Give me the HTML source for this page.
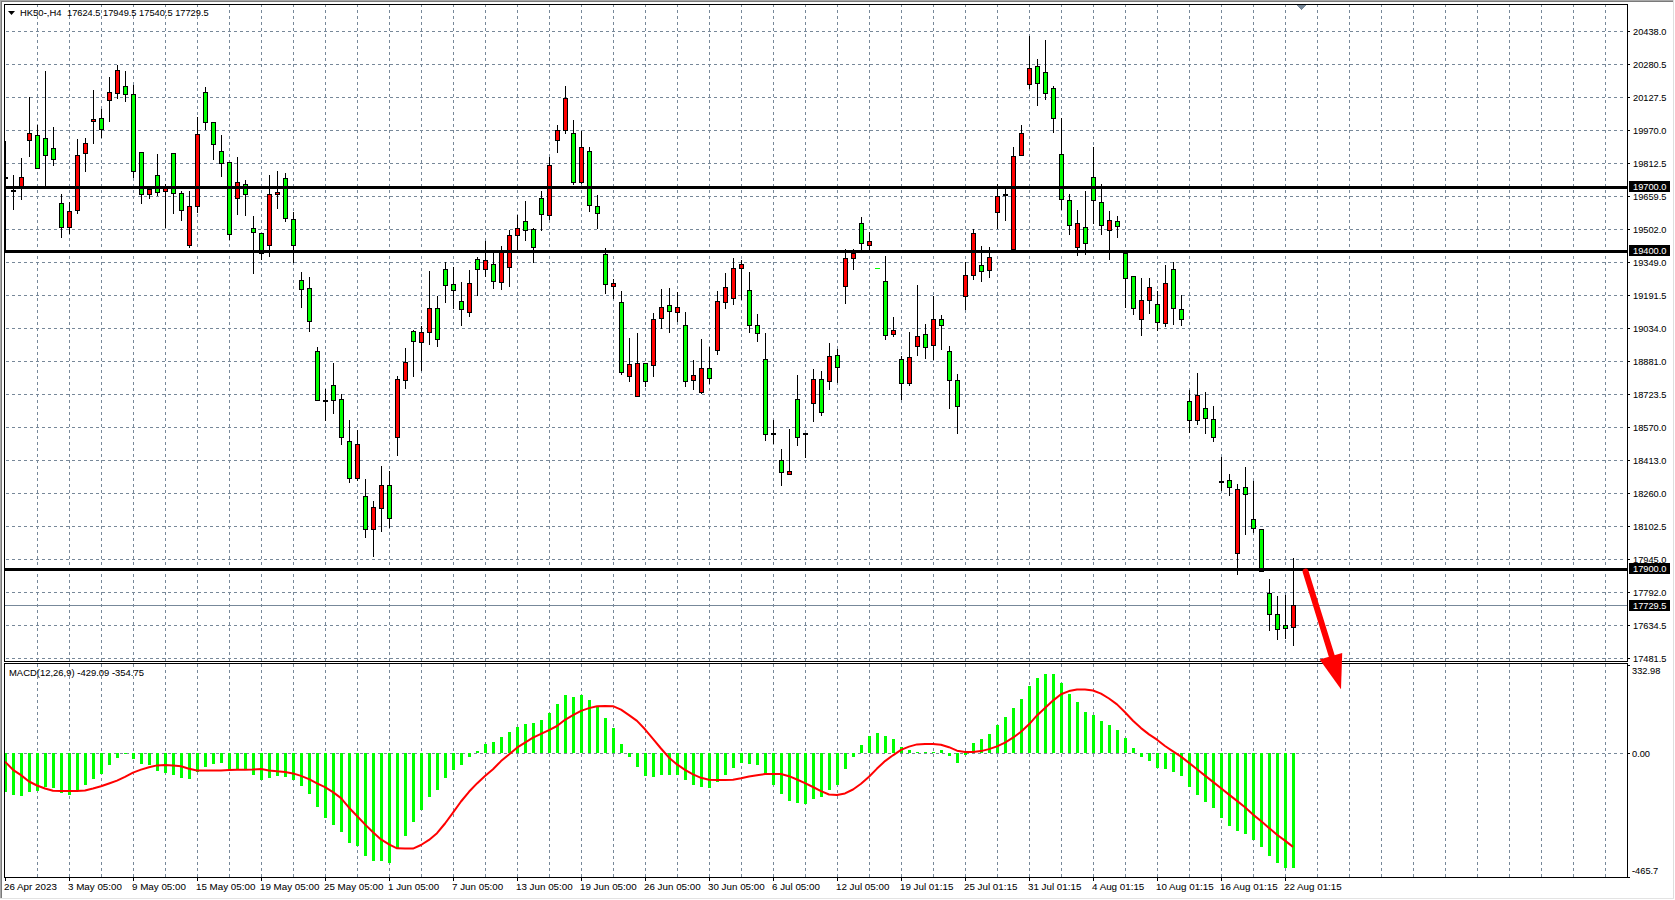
<!DOCTYPE html>
<html><head><meta charset="utf-8"><title>HK50 H4</title>
<style>html,body{margin:0;padding:0;background:#fff;overflow:hidden}body{width:1675px;height:900px;position:relative}</style>
</head><body>
<svg width="1675" height="900" viewBox="0 0 1675 900" style="position:absolute;left:0;top:0;display:block">
<rect x="0" y="0" width="1675" height="900" fill="#ffffff"/>
<g shape-rendering="crispEdges">
<rect x="0" y="0" width="1674" height="1" fill="#a9a9a9"/>
<rect x="1" y="1" width="1673" height="1" fill="#7a7a7a"/>
<rect x="0" y="0" width="1" height="899" fill="#a9a9a9"/>
<rect x="1" y="1" width="1" height="898" fill="#7a7a7a"/>
<rect x="1673" y="0" width="1" height="899" fill="#dedede"/>
<rect x="0" y="898" width="1674" height="1" fill="#e3e3e3"/>
<defs><clipPath id="cm"><rect x="5" y="5" width="1622" height="656"/></clipPath><clipPath id="cd"><rect x="5" y="664" width="1622" height="213"/></clipPath></defs>
<line x1="6" y1="31.5" x2="1625" y2="31.5" stroke="#778899" stroke-width="1" stroke-dasharray="3 3"/>
<line x1="6" y1="64.5" x2="1625" y2="64.5" stroke="#778899" stroke-width="1" stroke-dasharray="3 3"/>
<line x1="6" y1="97.5" x2="1625" y2="97.5" stroke="#778899" stroke-width="1" stroke-dasharray="3 3"/>
<line x1="6" y1="130.5" x2="1625" y2="130.5" stroke="#778899" stroke-width="1" stroke-dasharray="3 3"/>
<line x1="6" y1="163.5" x2="1625" y2="163.5" stroke="#778899" stroke-width="1" stroke-dasharray="3 3"/>
<line x1="6" y1="196.5" x2="1625" y2="196.5" stroke="#778899" stroke-width="1" stroke-dasharray="3 3"/>
<line x1="6" y1="229.5" x2="1625" y2="229.5" stroke="#778899" stroke-width="1" stroke-dasharray="3 3"/>
<line x1="6" y1="262.5" x2="1625" y2="262.5" stroke="#778899" stroke-width="1" stroke-dasharray="3 3"/>
<line x1="6" y1="295.5" x2="1625" y2="295.5" stroke="#778899" stroke-width="1" stroke-dasharray="3 3"/>
<line x1="6" y1="328.5" x2="1625" y2="328.5" stroke="#778899" stroke-width="1" stroke-dasharray="3 3"/>
<line x1="6" y1="361.5" x2="1625" y2="361.5" stroke="#778899" stroke-width="1" stroke-dasharray="3 3"/>
<line x1="6" y1="394.5" x2="1625" y2="394.5" stroke="#778899" stroke-width="1" stroke-dasharray="3 3"/>
<line x1="6" y1="427.5" x2="1625" y2="427.5" stroke="#778899" stroke-width="1" stroke-dasharray="3 3"/>
<line x1="6" y1="460.5" x2="1625" y2="460.5" stroke="#778899" stroke-width="1" stroke-dasharray="3 3"/>
<line x1="6" y1="493.5" x2="1625" y2="493.5" stroke="#778899" stroke-width="1" stroke-dasharray="3 3"/>
<line x1="6" y1="526.5" x2="1625" y2="526.5" stroke="#778899" stroke-width="1" stroke-dasharray="3 3"/>
<line x1="6" y1="559.5" x2="1625" y2="559.5" stroke="#778899" stroke-width="1" stroke-dasharray="3 3"/>
<line x1="6" y1="592.5" x2="1625" y2="592.5" stroke="#778899" stroke-width="1" stroke-dasharray="3 3"/>
<line x1="6" y1="625.5" x2="1625" y2="625.5" stroke="#778899" stroke-width="1" stroke-dasharray="3 3"/>
<line x1="6" y1="658.5" x2="1625" y2="658.5" stroke="#778899" stroke-width="1" stroke-dasharray="3 3"/>
<line x1="37.5" y1="4" x2="37.5" y2="661" stroke="#778899" stroke-width="1" stroke-dasharray="3 3"/>
<line x1="37.5" y1="664" x2="37.5" y2="877" stroke="#778899" stroke-width="1" stroke-dasharray="3 3"/>
<line x1="69.5" y1="4" x2="69.5" y2="661" stroke="#778899" stroke-width="1" stroke-dasharray="3 3"/>
<line x1="69.5" y1="664" x2="69.5" y2="877" stroke="#778899" stroke-width="1" stroke-dasharray="3 3"/>
<line x1="101.5" y1="4" x2="101.5" y2="661" stroke="#778899" stroke-width="1" stroke-dasharray="3 3"/>
<line x1="101.5" y1="664" x2="101.5" y2="877" stroke="#778899" stroke-width="1" stroke-dasharray="3 3"/>
<line x1="133.5" y1="4" x2="133.5" y2="661" stroke="#778899" stroke-width="1" stroke-dasharray="3 3"/>
<line x1="133.5" y1="664" x2="133.5" y2="877" stroke="#778899" stroke-width="1" stroke-dasharray="3 3"/>
<line x1="165.5" y1="4" x2="165.5" y2="661" stroke="#778899" stroke-width="1" stroke-dasharray="3 3"/>
<line x1="165.5" y1="664" x2="165.5" y2="877" stroke="#778899" stroke-width="1" stroke-dasharray="3 3"/>
<line x1="197.5" y1="4" x2="197.5" y2="661" stroke="#778899" stroke-width="1" stroke-dasharray="3 3"/>
<line x1="197.5" y1="664" x2="197.5" y2="877" stroke="#778899" stroke-width="1" stroke-dasharray="3 3"/>
<line x1="229.5" y1="4" x2="229.5" y2="661" stroke="#778899" stroke-width="1" stroke-dasharray="3 3"/>
<line x1="229.5" y1="664" x2="229.5" y2="877" stroke="#778899" stroke-width="1" stroke-dasharray="3 3"/>
<line x1="261.5" y1="4" x2="261.5" y2="661" stroke="#778899" stroke-width="1" stroke-dasharray="3 3"/>
<line x1="261.5" y1="664" x2="261.5" y2="877" stroke="#778899" stroke-width="1" stroke-dasharray="3 3"/>
<line x1="293.5" y1="4" x2="293.5" y2="661" stroke="#778899" stroke-width="1" stroke-dasharray="3 3"/>
<line x1="293.5" y1="664" x2="293.5" y2="877" stroke="#778899" stroke-width="1" stroke-dasharray="3 3"/>
<line x1="325.5" y1="4" x2="325.5" y2="661" stroke="#778899" stroke-width="1" stroke-dasharray="3 3"/>
<line x1="325.5" y1="664" x2="325.5" y2="877" stroke="#778899" stroke-width="1" stroke-dasharray="3 3"/>
<line x1="357.5" y1="4" x2="357.5" y2="661" stroke="#778899" stroke-width="1" stroke-dasharray="3 3"/>
<line x1="357.5" y1="664" x2="357.5" y2="877" stroke="#778899" stroke-width="1" stroke-dasharray="3 3"/>
<line x1="389.5" y1="4" x2="389.5" y2="661" stroke="#778899" stroke-width="1" stroke-dasharray="3 3"/>
<line x1="389.5" y1="664" x2="389.5" y2="877" stroke="#778899" stroke-width="1" stroke-dasharray="3 3"/>
<line x1="421.5" y1="4" x2="421.5" y2="661" stroke="#778899" stroke-width="1" stroke-dasharray="3 3"/>
<line x1="421.5" y1="664" x2="421.5" y2="877" stroke="#778899" stroke-width="1" stroke-dasharray="3 3"/>
<line x1="453.5" y1="4" x2="453.5" y2="661" stroke="#778899" stroke-width="1" stroke-dasharray="3 3"/>
<line x1="453.5" y1="664" x2="453.5" y2="877" stroke="#778899" stroke-width="1" stroke-dasharray="3 3"/>
<line x1="485.5" y1="4" x2="485.5" y2="661" stroke="#778899" stroke-width="1" stroke-dasharray="3 3"/>
<line x1="485.5" y1="664" x2="485.5" y2="877" stroke="#778899" stroke-width="1" stroke-dasharray="3 3"/>
<line x1="517.5" y1="4" x2="517.5" y2="661" stroke="#778899" stroke-width="1" stroke-dasharray="3 3"/>
<line x1="517.5" y1="664" x2="517.5" y2="877" stroke="#778899" stroke-width="1" stroke-dasharray="3 3"/>
<line x1="549.5" y1="4" x2="549.5" y2="661" stroke="#778899" stroke-width="1" stroke-dasharray="3 3"/>
<line x1="549.5" y1="664" x2="549.5" y2="877" stroke="#778899" stroke-width="1" stroke-dasharray="3 3"/>
<line x1="581.5" y1="4" x2="581.5" y2="661" stroke="#778899" stroke-width="1" stroke-dasharray="3 3"/>
<line x1="581.5" y1="664" x2="581.5" y2="877" stroke="#778899" stroke-width="1" stroke-dasharray="3 3"/>
<line x1="613.5" y1="4" x2="613.5" y2="661" stroke="#778899" stroke-width="1" stroke-dasharray="3 3"/>
<line x1="613.5" y1="664" x2="613.5" y2="877" stroke="#778899" stroke-width="1" stroke-dasharray="3 3"/>
<line x1="645.5" y1="4" x2="645.5" y2="661" stroke="#778899" stroke-width="1" stroke-dasharray="3 3"/>
<line x1="645.5" y1="664" x2="645.5" y2="877" stroke="#778899" stroke-width="1" stroke-dasharray="3 3"/>
<line x1="677.5" y1="4" x2="677.5" y2="661" stroke="#778899" stroke-width="1" stroke-dasharray="3 3"/>
<line x1="677.5" y1="664" x2="677.5" y2="877" stroke="#778899" stroke-width="1" stroke-dasharray="3 3"/>
<line x1="709.5" y1="4" x2="709.5" y2="661" stroke="#778899" stroke-width="1" stroke-dasharray="3 3"/>
<line x1="709.5" y1="664" x2="709.5" y2="877" stroke="#778899" stroke-width="1" stroke-dasharray="3 3"/>
<line x1="741.5" y1="4" x2="741.5" y2="661" stroke="#778899" stroke-width="1" stroke-dasharray="3 3"/>
<line x1="741.5" y1="664" x2="741.5" y2="877" stroke="#778899" stroke-width="1" stroke-dasharray="3 3"/>
<line x1="773.5" y1="4" x2="773.5" y2="661" stroke="#778899" stroke-width="1" stroke-dasharray="3 3"/>
<line x1="773.5" y1="664" x2="773.5" y2="877" stroke="#778899" stroke-width="1" stroke-dasharray="3 3"/>
<line x1="805.5" y1="4" x2="805.5" y2="661" stroke="#778899" stroke-width="1" stroke-dasharray="3 3"/>
<line x1="805.5" y1="664" x2="805.5" y2="877" stroke="#778899" stroke-width="1" stroke-dasharray="3 3"/>
<line x1="837.5" y1="4" x2="837.5" y2="661" stroke="#778899" stroke-width="1" stroke-dasharray="3 3"/>
<line x1="837.5" y1="664" x2="837.5" y2="877" stroke="#778899" stroke-width="1" stroke-dasharray="3 3"/>
<line x1="869.5" y1="4" x2="869.5" y2="661" stroke="#778899" stroke-width="1" stroke-dasharray="3 3"/>
<line x1="869.5" y1="664" x2="869.5" y2="877" stroke="#778899" stroke-width="1" stroke-dasharray="3 3"/>
<line x1="901.5" y1="4" x2="901.5" y2="661" stroke="#778899" stroke-width="1" stroke-dasharray="3 3"/>
<line x1="901.5" y1="664" x2="901.5" y2="877" stroke="#778899" stroke-width="1" stroke-dasharray="3 3"/>
<line x1="933.5" y1="4" x2="933.5" y2="661" stroke="#778899" stroke-width="1" stroke-dasharray="3 3"/>
<line x1="933.5" y1="664" x2="933.5" y2="877" stroke="#778899" stroke-width="1" stroke-dasharray="3 3"/>
<line x1="965.5" y1="4" x2="965.5" y2="661" stroke="#778899" stroke-width="1" stroke-dasharray="3 3"/>
<line x1="965.5" y1="664" x2="965.5" y2="877" stroke="#778899" stroke-width="1" stroke-dasharray="3 3"/>
<line x1="997.5" y1="4" x2="997.5" y2="661" stroke="#778899" stroke-width="1" stroke-dasharray="3 3"/>
<line x1="997.5" y1="664" x2="997.5" y2="877" stroke="#778899" stroke-width="1" stroke-dasharray="3 3"/>
<line x1="1029.5" y1="4" x2="1029.5" y2="661" stroke="#778899" stroke-width="1" stroke-dasharray="3 3"/>
<line x1="1029.5" y1="664" x2="1029.5" y2="877" stroke="#778899" stroke-width="1" stroke-dasharray="3 3"/>
<line x1="1061.5" y1="4" x2="1061.5" y2="661" stroke="#778899" stroke-width="1" stroke-dasharray="3 3"/>
<line x1="1061.5" y1="664" x2="1061.5" y2="877" stroke="#778899" stroke-width="1" stroke-dasharray="3 3"/>
<line x1="1093.5" y1="4" x2="1093.5" y2="661" stroke="#778899" stroke-width="1" stroke-dasharray="3 3"/>
<line x1="1093.5" y1="664" x2="1093.5" y2="877" stroke="#778899" stroke-width="1" stroke-dasharray="3 3"/>
<line x1="1125.5" y1="4" x2="1125.5" y2="661" stroke="#778899" stroke-width="1" stroke-dasharray="3 3"/>
<line x1="1125.5" y1="664" x2="1125.5" y2="877" stroke="#778899" stroke-width="1" stroke-dasharray="3 3"/>
<line x1="1157.5" y1="4" x2="1157.5" y2="661" stroke="#778899" stroke-width="1" stroke-dasharray="3 3"/>
<line x1="1157.5" y1="664" x2="1157.5" y2="877" stroke="#778899" stroke-width="1" stroke-dasharray="3 3"/>
<line x1="1189.5" y1="4" x2="1189.5" y2="661" stroke="#778899" stroke-width="1" stroke-dasharray="3 3"/>
<line x1="1189.5" y1="664" x2="1189.5" y2="877" stroke="#778899" stroke-width="1" stroke-dasharray="3 3"/>
<line x1="1221.5" y1="4" x2="1221.5" y2="661" stroke="#778899" stroke-width="1" stroke-dasharray="3 3"/>
<line x1="1221.5" y1="664" x2="1221.5" y2="877" stroke="#778899" stroke-width="1" stroke-dasharray="3 3"/>
<line x1="1253.5" y1="4" x2="1253.5" y2="661" stroke="#778899" stroke-width="1" stroke-dasharray="3 3"/>
<line x1="1253.5" y1="664" x2="1253.5" y2="877" stroke="#778899" stroke-width="1" stroke-dasharray="3 3"/>
<line x1="1285.5" y1="4" x2="1285.5" y2="661" stroke="#778899" stroke-width="1" stroke-dasharray="3 3"/>
<line x1="1285.5" y1="664" x2="1285.5" y2="877" stroke="#778899" stroke-width="1" stroke-dasharray="3 3"/>
<line x1="1317.5" y1="4" x2="1317.5" y2="661" stroke="#778899" stroke-width="1" stroke-dasharray="3 3"/>
<line x1="1317.5" y1="664" x2="1317.5" y2="877" stroke="#778899" stroke-width="1" stroke-dasharray="3 3"/>
<line x1="1349.5" y1="4" x2="1349.5" y2="661" stroke="#778899" stroke-width="1" stroke-dasharray="3 3"/>
<line x1="1349.5" y1="664" x2="1349.5" y2="877" stroke="#778899" stroke-width="1" stroke-dasharray="3 3"/>
<line x1="1381.5" y1="4" x2="1381.5" y2="661" stroke="#778899" stroke-width="1" stroke-dasharray="3 3"/>
<line x1="1381.5" y1="664" x2="1381.5" y2="877" stroke="#778899" stroke-width="1" stroke-dasharray="3 3"/>
<line x1="1413.5" y1="4" x2="1413.5" y2="661" stroke="#778899" stroke-width="1" stroke-dasharray="3 3"/>
<line x1="1413.5" y1="664" x2="1413.5" y2="877" stroke="#778899" stroke-width="1" stroke-dasharray="3 3"/>
<line x1="1445.5" y1="4" x2="1445.5" y2="661" stroke="#778899" stroke-width="1" stroke-dasharray="3 3"/>
<line x1="1445.5" y1="664" x2="1445.5" y2="877" stroke="#778899" stroke-width="1" stroke-dasharray="3 3"/>
<line x1="1477.5" y1="4" x2="1477.5" y2="661" stroke="#778899" stroke-width="1" stroke-dasharray="3 3"/>
<line x1="1477.5" y1="664" x2="1477.5" y2="877" stroke="#778899" stroke-width="1" stroke-dasharray="3 3"/>
<line x1="1509.5" y1="4" x2="1509.5" y2="661" stroke="#778899" stroke-width="1" stroke-dasharray="3 3"/>
<line x1="1509.5" y1="664" x2="1509.5" y2="877" stroke="#778899" stroke-width="1" stroke-dasharray="3 3"/>
<line x1="1541.5" y1="4" x2="1541.5" y2="661" stroke="#778899" stroke-width="1" stroke-dasharray="3 3"/>
<line x1="1541.5" y1="664" x2="1541.5" y2="877" stroke="#778899" stroke-width="1" stroke-dasharray="3 3"/>
<line x1="1573.5" y1="4" x2="1573.5" y2="661" stroke="#778899" stroke-width="1" stroke-dasharray="3 3"/>
<line x1="1573.5" y1="664" x2="1573.5" y2="877" stroke="#778899" stroke-width="1" stroke-dasharray="3 3"/>
<line x1="1605.5" y1="4" x2="1605.5" y2="661" stroke="#778899" stroke-width="1" stroke-dasharray="3 3"/>
<line x1="1605.5" y1="664" x2="1605.5" y2="877" stroke="#778899" stroke-width="1" stroke-dasharray="3 3"/>
<line x1="6" y1="753.5" x2="1625" y2="753.5" stroke="#778899" stroke-width="1" stroke-dasharray="3 3"/>
<g clip-path="url(#cm)">
<rect x="5" y="605" width="1622" height="1" fill="#778899"/>
<rect x="5" y="141" width="1" height="111" fill="#000"/>
<rect x="3" y="177" width="5" height="2" fill="#000"/>
<rect x="13" y="175" width="1" height="35" fill="#000"/>
<rect x="11" y="190" width="5" height="2" fill="#000"/>
<rect x="21" y="158" width="1" height="42" fill="#000"/>
<rect x="19" y="177" width="5" height="10" fill="#000"/>
<rect x="20" y="178" width="3" height="8" fill="#ff0000"/>
<rect x="29" y="97" width="1" height="60" fill="#000"/>
<rect x="27" y="133" width="5" height="8" fill="#000"/>
<rect x="28" y="134" width="3" height="6" fill="#ff0000"/>
<rect x="37" y="125" width="1" height="44" fill="#000"/>
<rect x="35" y="135" width="5" height="34" fill="#000"/>
<rect x="36" y="136" width="3" height="32" fill="#00ff00"/>
<rect x="45" y="71" width="1" height="116" fill="#000"/>
<rect x="43" y="138" width="5" height="18" fill="#000"/>
<rect x="44" y="139" width="3" height="16" fill="#00ff00"/>
<rect x="53" y="127" width="1" height="39" fill="#000"/>
<rect x="51" y="148" width="5" height="12" fill="#000"/>
<rect x="52" y="149" width="3" height="10" fill="#00ff00"/>
<rect x="61" y="194" width="1" height="44" fill="#000"/>
<rect x="59" y="203" width="5" height="25" fill="#000"/>
<rect x="60" y="204" width="3" height="23" fill="#00ff00"/>
<rect x="69" y="202" width="1" height="32" fill="#000"/>
<rect x="67" y="211" width="5" height="17" fill="#000"/>
<rect x="68" y="212" width="3" height="15" fill="#ff0000"/>
<rect x="77" y="139" width="1" height="75" fill="#000"/>
<rect x="75" y="155" width="5" height="56" fill="#000"/>
<rect x="76" y="156" width="3" height="54" fill="#ff0000"/>
<rect x="85" y="138" width="1" height="34" fill="#000"/>
<rect x="83" y="143" width="5" height="11" fill="#000"/>
<rect x="84" y="144" width="3" height="9" fill="#ff0000"/>
<rect x="93" y="90" width="1" height="54" fill="#000"/>
<rect x="91" y="119" width="5" height="3" fill="#000"/>
<rect x="92" y="120" width="3" height="1" fill="#ff0000"/>
<rect x="101" y="109" width="1" height="29" fill="#000"/>
<rect x="99" y="118" width="5" height="12" fill="#000"/>
<rect x="100" y="119" width="3" height="10" fill="#00ff00"/>
<rect x="109" y="77" width="1" height="45" fill="#000"/>
<rect x="107" y="92" width="5" height="9" fill="#000"/>
<rect x="108" y="93" width="3" height="7" fill="#ff0000"/>
<rect x="117" y="65" width="1" height="34" fill="#000"/>
<rect x="115" y="70" width="5" height="24" fill="#000"/>
<rect x="116" y="71" width="3" height="22" fill="#ff0000"/>
<rect x="125" y="71" width="1" height="31" fill="#000"/>
<rect x="123" y="86" width="5" height="9" fill="#000"/>
<rect x="124" y="87" width="3" height="7" fill="#00ff00"/>
<rect x="133" y="85" width="1" height="93" fill="#000"/>
<rect x="131" y="94" width="5" height="78" fill="#000"/>
<rect x="132" y="95" width="3" height="76" fill="#00ff00"/>
<rect x="141" y="152" width="1" height="52" fill="#000"/>
<rect x="139" y="152" width="5" height="43" fill="#000"/>
<rect x="140" y="153" width="3" height="41" fill="#00ff00"/>
<rect x="149" y="189" width="1" height="10" fill="#000"/>
<rect x="147" y="189" width="5" height="6" fill="#000"/>
<rect x="148" y="190" width="3" height="4" fill="#ff0000"/>
<rect x="157" y="154" width="1" height="42" fill="#000"/>
<rect x="155" y="175" width="5" height="18" fill="#000"/>
<rect x="156" y="176" width="3" height="16" fill="#00ff00"/>
<rect x="165" y="184" width="1" height="44" fill="#000"/>
<rect x="163" y="188" width="5" height="4" fill="#000"/>
<rect x="164" y="189" width="3" height="2" fill="#ff0000"/>
<rect x="173" y="153" width="1" height="61" fill="#000"/>
<rect x="171" y="153" width="5" height="41" fill="#000"/>
<rect x="172" y="154" width="3" height="39" fill="#00ff00"/>
<rect x="181" y="191" width="1" height="30" fill="#000"/>
<rect x="179" y="193" width="5" height="18" fill="#000"/>
<rect x="180" y="194" width="3" height="16" fill="#00ff00"/>
<rect x="189" y="191" width="1" height="57" fill="#000"/>
<rect x="187" y="206" width="5" height="40" fill="#000"/>
<rect x="188" y="207" width="3" height="38" fill="#ff0000"/>
<rect x="197" y="117" width="1" height="96" fill="#000"/>
<rect x="195" y="134" width="5" height="73" fill="#000"/>
<rect x="196" y="135" width="3" height="71" fill="#ff0000"/>
<rect x="205" y="87" width="1" height="43" fill="#000"/>
<rect x="203" y="92" width="5" height="31" fill="#000"/>
<rect x="204" y="93" width="3" height="29" fill="#00ff00"/>
<rect x="213" y="122" width="1" height="38" fill="#000"/>
<rect x="211" y="122" width="5" height="23" fill="#000"/>
<rect x="212" y="123" width="3" height="21" fill="#00ff00"/>
<rect x="221" y="135" width="1" height="42" fill="#000"/>
<rect x="219" y="151" width="5" height="13" fill="#000"/>
<rect x="220" y="152" width="3" height="11" fill="#00ff00"/>
<rect x="229" y="162" width="1" height="78" fill="#000"/>
<rect x="227" y="162" width="5" height="73" fill="#000"/>
<rect x="228" y="163" width="3" height="71" fill="#00ff00"/>
<rect x="237" y="157" width="1" height="58" fill="#000"/>
<rect x="235" y="182" width="5" height="17" fill="#000"/>
<rect x="236" y="183" width="3" height="15" fill="#ff0000"/>
<rect x="245" y="180" width="1" height="36" fill="#000"/>
<rect x="243" y="184" width="5" height="11" fill="#000"/>
<rect x="244" y="185" width="3" height="9" fill="#00ff00"/>
<rect x="253" y="216" width="1" height="58" fill="#000"/>
<rect x="251" y="228" width="5" height="5" fill="#000"/>
<rect x="252" y="229" width="3" height="3" fill="#00ff00"/>
<rect x="261" y="233" width="1" height="27" fill="#000"/>
<rect x="259" y="233" width="5" height="21" fill="#000"/>
<rect x="260" y="234" width="3" height="19" fill="#00ff00"/>
<rect x="269" y="175" width="1" height="82" fill="#000"/>
<rect x="267" y="194" width="5" height="52" fill="#000"/>
<rect x="268" y="195" width="3" height="50" fill="#ff0000"/>
<rect x="277" y="171" width="1" height="38" fill="#000"/>
<rect x="275" y="192" width="5" height="3" fill="#000"/>
<rect x="276" y="193" width="3" height="1" fill="#ff0000"/>
<rect x="285" y="173" width="1" height="49" fill="#000"/>
<rect x="283" y="178" width="5" height="41" fill="#000"/>
<rect x="284" y="179" width="3" height="39" fill="#00ff00"/>
<rect x="293" y="212" width="1" height="51" fill="#000"/>
<rect x="291" y="219" width="5" height="27" fill="#000"/>
<rect x="292" y="220" width="3" height="25" fill="#00ff00"/>
<rect x="301" y="272" width="1" height="36" fill="#000"/>
<rect x="299" y="280" width="5" height="10" fill="#000"/>
<rect x="300" y="281" width="3" height="8" fill="#00ff00"/>
<rect x="309" y="277" width="1" height="55" fill="#000"/>
<rect x="307" y="288" width="5" height="34" fill="#000"/>
<rect x="308" y="289" width="3" height="32" fill="#00ff00"/>
<rect x="317" y="347" width="1" height="54" fill="#000"/>
<rect x="315" y="351" width="5" height="50" fill="#000"/>
<rect x="316" y="352" width="3" height="48" fill="#00ff00"/>
<rect x="325" y="389" width="1" height="32" fill="#000"/>
<rect x="323" y="400" width="5" height="2" fill="#000"/>
<rect x="333" y="363" width="1" height="51" fill="#000"/>
<rect x="331" y="385" width="5" height="16" fill="#000"/>
<rect x="332" y="386" width="3" height="14" fill="#00ff00"/>
<rect x="341" y="394" width="1" height="51" fill="#000"/>
<rect x="339" y="399" width="5" height="39" fill="#000"/>
<rect x="340" y="400" width="3" height="37" fill="#00ff00"/>
<rect x="349" y="420" width="1" height="63" fill="#000"/>
<rect x="347" y="441" width="5" height="38" fill="#000"/>
<rect x="348" y="442" width="3" height="36" fill="#00ff00"/>
<rect x="357" y="430" width="1" height="51" fill="#000"/>
<rect x="355" y="444" width="5" height="35" fill="#000"/>
<rect x="356" y="445" width="3" height="33" fill="#ff0000"/>
<rect x="365" y="479" width="1" height="59" fill="#000"/>
<rect x="363" y="496" width="5" height="34" fill="#000"/>
<rect x="364" y="497" width="3" height="32" fill="#00ff00"/>
<rect x="373" y="501" width="1" height="56" fill="#000"/>
<rect x="371" y="507" width="5" height="23" fill="#000"/>
<rect x="372" y="508" width="3" height="21" fill="#ff0000"/>
<rect x="381" y="466" width="1" height="66" fill="#000"/>
<rect x="379" y="485" width="5" height="24" fill="#000"/>
<rect x="380" y="486" width="3" height="22" fill="#ff0000"/>
<rect x="389" y="471" width="1" height="57" fill="#000"/>
<rect x="387" y="485" width="5" height="34" fill="#000"/>
<rect x="388" y="486" width="3" height="32" fill="#00ff00"/>
<rect x="397" y="376" width="1" height="80" fill="#000"/>
<rect x="395" y="379" width="5" height="59" fill="#000"/>
<rect x="396" y="380" width="3" height="57" fill="#ff0000"/>
<rect x="405" y="348" width="1" height="41" fill="#000"/>
<rect x="403" y="362" width="5" height="19" fill="#000"/>
<rect x="404" y="363" width="3" height="17" fill="#ff0000"/>
<rect x="413" y="330" width="1" height="47" fill="#000"/>
<rect x="411" y="331" width="5" height="11" fill="#000"/>
<rect x="412" y="332" width="3" height="9" fill="#00ff00"/>
<rect x="421" y="326" width="1" height="45" fill="#000"/>
<rect x="419" y="332" width="5" height="11" fill="#000"/>
<rect x="420" y="333" width="3" height="9" fill="#ff0000"/>
<rect x="429" y="271" width="1" height="74" fill="#000"/>
<rect x="427" y="308" width="5" height="25" fill="#000"/>
<rect x="428" y="309" width="3" height="23" fill="#ff0000"/>
<rect x="437" y="296" width="1" height="51" fill="#000"/>
<rect x="435" y="308" width="5" height="32" fill="#000"/>
<rect x="436" y="309" width="3" height="30" fill="#00ff00"/>
<rect x="445" y="262" width="1" height="41" fill="#000"/>
<rect x="443" y="269" width="5" height="17" fill="#000"/>
<rect x="444" y="270" width="3" height="15" fill="#00ff00"/>
<rect x="453" y="267" width="1" height="42" fill="#000"/>
<rect x="451" y="284" width="5" height="7" fill="#000"/>
<rect x="452" y="285" width="3" height="5" fill="#00ff00"/>
<rect x="461" y="282" width="1" height="44" fill="#000"/>
<rect x="459" y="301" width="5" height="9" fill="#000"/>
<rect x="460" y="302" width="3" height="7" fill="#00ff00"/>
<rect x="469" y="270" width="1" height="47" fill="#000"/>
<rect x="467" y="283" width="5" height="30" fill="#000"/>
<rect x="468" y="284" width="3" height="28" fill="#ff0000"/>
<rect x="477" y="257" width="1" height="39" fill="#000"/>
<rect x="475" y="259" width="5" height="11" fill="#000"/>
<rect x="476" y="260" width="3" height="9" fill="#00ff00"/>
<rect x="485" y="241" width="1" height="36" fill="#000"/>
<rect x="483" y="260" width="5" height="10" fill="#000"/>
<rect x="484" y="261" width="3" height="8" fill="#ff0000"/>
<rect x="493" y="252" width="1" height="37" fill="#000"/>
<rect x="491" y="264" width="5" height="18" fill="#000"/>
<rect x="492" y="265" width="3" height="16" fill="#00ff00"/>
<rect x="501" y="246" width="1" height="44" fill="#000"/>
<rect x="499" y="252" width="5" height="31" fill="#000"/>
<rect x="500" y="253" width="3" height="29" fill="#ff0000"/>
<rect x="509" y="230" width="1" height="57" fill="#000"/>
<rect x="507" y="235" width="5" height="33" fill="#000"/>
<rect x="508" y="236" width="3" height="31" fill="#ff0000"/>
<rect x="517" y="215" width="1" height="36" fill="#000"/>
<rect x="515" y="228" width="5" height="8" fill="#000"/>
<rect x="516" y="229" width="3" height="6" fill="#ff0000"/>
<rect x="525" y="201" width="1" height="40" fill="#000"/>
<rect x="523" y="221" width="5" height="10" fill="#000"/>
<rect x="524" y="222" width="3" height="8" fill="#00ff00"/>
<rect x="533" y="228" width="1" height="35" fill="#000"/>
<rect x="531" y="229" width="5" height="19" fill="#000"/>
<rect x="532" y="230" width="3" height="17" fill="#00ff00"/>
<rect x="541" y="191" width="1" height="40" fill="#000"/>
<rect x="539" y="198" width="5" height="17" fill="#000"/>
<rect x="540" y="199" width="3" height="15" fill="#00ff00"/>
<rect x="549" y="157" width="1" height="63" fill="#000"/>
<rect x="547" y="165" width="5" height="51" fill="#000"/>
<rect x="548" y="166" width="3" height="49" fill="#ff0000"/>
<rect x="557" y="125" width="1" height="28" fill="#000"/>
<rect x="555" y="130" width="5" height="11" fill="#000"/>
<rect x="556" y="131" width="3" height="9" fill="#ff0000"/>
<rect x="565" y="86" width="1" height="48" fill="#000"/>
<rect x="563" y="98" width="5" height="33" fill="#000"/>
<rect x="564" y="99" width="3" height="31" fill="#ff0000"/>
<rect x="573" y="120" width="1" height="65" fill="#000"/>
<rect x="571" y="133" width="5" height="50" fill="#000"/>
<rect x="572" y="134" width="3" height="48" fill="#00ff00"/>
<rect x="581" y="131" width="1" height="53" fill="#000"/>
<rect x="579" y="147" width="5" height="36" fill="#000"/>
<rect x="580" y="148" width="3" height="34" fill="#ff0000"/>
<rect x="589" y="147" width="1" height="65" fill="#000"/>
<rect x="587" y="151" width="5" height="55" fill="#000"/>
<rect x="588" y="152" width="3" height="53" fill="#00ff00"/>
<rect x="597" y="195" width="1" height="34" fill="#000"/>
<rect x="595" y="206" width="5" height="8" fill="#000"/>
<rect x="596" y="207" width="3" height="6" fill="#00ff00"/>
<rect x="605" y="248" width="1" height="46" fill="#000"/>
<rect x="603" y="254" width="5" height="31" fill="#000"/>
<rect x="604" y="255" width="3" height="29" fill="#00ff00"/>
<rect x="613" y="279" width="1" height="20" fill="#000"/>
<rect x="611" y="283" width="5" height="4" fill="#000"/>
<rect x="612" y="284" width="3" height="2" fill="#ff0000"/>
<rect x="621" y="291" width="1" height="84" fill="#000"/>
<rect x="619" y="302" width="5" height="71" fill="#000"/>
<rect x="620" y="303" width="3" height="69" fill="#00ff00"/>
<rect x="629" y="338" width="1" height="44" fill="#000"/>
<rect x="627" y="364" width="5" height="13" fill="#000"/>
<rect x="628" y="365" width="3" height="11" fill="#ff0000"/>
<rect x="637" y="333" width="1" height="64" fill="#000"/>
<rect x="635" y="363" width="5" height="34" fill="#000"/>
<rect x="636" y="364" width="3" height="32" fill="#ff0000"/>
<rect x="645" y="363" width="1" height="24" fill="#000"/>
<rect x="643" y="363" width="5" height="19" fill="#000"/>
<rect x="644" y="364" width="3" height="17" fill="#00ff00"/>
<rect x="653" y="313" width="1" height="64" fill="#000"/>
<rect x="651" y="319" width="5" height="47" fill="#000"/>
<rect x="652" y="320" width="3" height="45" fill="#ff0000"/>
<rect x="661" y="289" width="1" height="40" fill="#000"/>
<rect x="659" y="307" width="5" height="12" fill="#000"/>
<rect x="660" y="308" width="3" height="10" fill="#ff0000"/>
<rect x="669" y="288" width="1" height="45" fill="#000"/>
<rect x="667" y="305" width="5" height="7" fill="#000"/>
<rect x="668" y="306" width="3" height="5" fill="#00ff00"/>
<rect x="677" y="292" width="1" height="30" fill="#000"/>
<rect x="675" y="307" width="5" height="6" fill="#000"/>
<rect x="676" y="308" width="3" height="4" fill="#ff0000"/>
<rect x="685" y="312" width="1" height="75" fill="#000"/>
<rect x="683" y="325" width="5" height="57" fill="#000"/>
<rect x="684" y="326" width="3" height="55" fill="#00ff00"/>
<rect x="693" y="360" width="1" height="30" fill="#000"/>
<rect x="691" y="375" width="5" height="6" fill="#000"/>
<rect x="692" y="376" width="3" height="4" fill="#ff0000"/>
<rect x="701" y="339" width="1" height="55" fill="#000"/>
<rect x="699" y="368" width="5" height="25" fill="#000"/>
<rect x="700" y="369" width="3" height="23" fill="#ff0000"/>
<rect x="709" y="347" width="1" height="37" fill="#000"/>
<rect x="707" y="368" width="5" height="11" fill="#000"/>
<rect x="708" y="369" width="3" height="9" fill="#00ff00"/>
<rect x="717" y="291" width="1" height="64" fill="#000"/>
<rect x="715" y="301" width="5" height="50" fill="#000"/>
<rect x="716" y="302" width="3" height="48" fill="#ff0000"/>
<rect x="725" y="273" width="1" height="36" fill="#000"/>
<rect x="723" y="287" width="5" height="16" fill="#000"/>
<rect x="724" y="288" width="3" height="14" fill="#ff0000"/>
<rect x="733" y="258" width="1" height="47" fill="#000"/>
<rect x="731" y="268" width="5" height="31" fill="#000"/>
<rect x="732" y="269" width="3" height="29" fill="#ff0000"/>
<rect x="741" y="260" width="1" height="40" fill="#000"/>
<rect x="739" y="264" width="5" height="5" fill="#000"/>
<rect x="740" y="265" width="3" height="3" fill="#ff0000"/>
<rect x="749" y="272" width="1" height="61" fill="#000"/>
<rect x="747" y="290" width="5" height="36" fill="#000"/>
<rect x="748" y="291" width="3" height="34" fill="#00ff00"/>
<rect x="757" y="314" width="1" height="28" fill="#000"/>
<rect x="755" y="325" width="5" height="9" fill="#000"/>
<rect x="756" y="326" width="3" height="7" fill="#00ff00"/>
<rect x="765" y="333" width="1" height="108" fill="#000"/>
<rect x="763" y="359" width="5" height="76" fill="#000"/>
<rect x="764" y="360" width="3" height="74" fill="#00ff00"/>
<rect x="773" y="420" width="1" height="24" fill="#000"/>
<rect x="771" y="433" width="5" height="2" fill="#000"/>
<rect x="781" y="449" width="1" height="37" fill="#000"/>
<rect x="779" y="460" width="5" height="13" fill="#000"/>
<rect x="780" y="461" width="3" height="11" fill="#00ff00"/>
<rect x="789" y="429" width="1" height="46" fill="#000"/>
<rect x="787" y="471" width="5" height="4" fill="#000"/>
<rect x="788" y="472" width="3" height="2" fill="#ff0000"/>
<rect x="797" y="375" width="1" height="71" fill="#000"/>
<rect x="795" y="399" width="5" height="39" fill="#000"/>
<rect x="796" y="400" width="3" height="37" fill="#00ff00"/>
<rect x="805" y="433" width="1" height="25" fill="#000"/>
<rect x="803" y="433" width="5" height="2" fill="#000"/>
<rect x="813" y="369" width="1" height="53" fill="#000"/>
<rect x="811" y="379" width="5" height="25" fill="#000"/>
<rect x="812" y="380" width="3" height="23" fill="#ff0000"/>
<rect x="821" y="371" width="1" height="45" fill="#000"/>
<rect x="819" y="379" width="5" height="34" fill="#000"/>
<rect x="820" y="380" width="3" height="32" fill="#00ff00"/>
<rect x="829" y="343" width="1" height="47" fill="#000"/>
<rect x="827" y="356" width="5" height="26" fill="#000"/>
<rect x="828" y="357" width="3" height="24" fill="#ff0000"/>
<rect x="837" y="349" width="1" height="34" fill="#000"/>
<rect x="835" y="355" width="5" height="13" fill="#000"/>
<rect x="836" y="356" width="3" height="11" fill="#00ff00"/>
<rect x="845" y="249" width="1" height="55" fill="#000"/>
<rect x="843" y="258" width="5" height="29" fill="#000"/>
<rect x="844" y="259" width="3" height="27" fill="#ff0000"/>
<rect x="853" y="249" width="1" height="21" fill="#000"/>
<rect x="851" y="253" width="5" height="6" fill="#000"/>
<rect x="852" y="254" width="3" height="4" fill="#ff0000"/>
<rect x="861" y="217" width="1" height="33" fill="#000"/>
<rect x="859" y="223" width="5" height="21" fill="#000"/>
<rect x="860" y="224" width="3" height="19" fill="#00ff00"/>
<rect x="869" y="232" width="1" height="18" fill="#000"/>
<rect x="867" y="241" width="5" height="5" fill="#000"/>
<rect x="868" y="242" width="3" height="3" fill="#ff0000"/>
<rect x="875" y="268" width="5" height="1" fill="#00ff00"/>
<rect x="885" y="256" width="1" height="84" fill="#000"/>
<rect x="883" y="281" width="5" height="55" fill="#000"/>
<rect x="884" y="282" width="3" height="53" fill="#00ff00"/>
<rect x="893" y="317" width="1" height="20" fill="#000"/>
<rect x="891" y="330" width="5" height="5" fill="#000"/>
<rect x="892" y="331" width="3" height="3" fill="#ff0000"/>
<rect x="901" y="356" width="1" height="44" fill="#000"/>
<rect x="899" y="359" width="5" height="25" fill="#000"/>
<rect x="900" y="360" width="3" height="23" fill="#00ff00"/>
<rect x="909" y="332" width="1" height="54" fill="#000"/>
<rect x="907" y="357" width="5" height="27" fill="#000"/>
<rect x="908" y="358" width="3" height="25" fill="#ff0000"/>
<rect x="917" y="285" width="1" height="71" fill="#000"/>
<rect x="915" y="336" width="5" height="11" fill="#000"/>
<rect x="916" y="337" width="3" height="9" fill="#ff0000"/>
<rect x="925" y="324" width="1" height="35" fill="#000"/>
<rect x="923" y="334" width="5" height="14" fill="#000"/>
<rect x="924" y="335" width="3" height="12" fill="#00ff00"/>
<rect x="933" y="296" width="1" height="64" fill="#000"/>
<rect x="931" y="319" width="5" height="27" fill="#000"/>
<rect x="932" y="320" width="3" height="25" fill="#ff0000"/>
<rect x="941" y="315" width="1" height="35" fill="#000"/>
<rect x="939" y="319" width="5" height="7" fill="#000"/>
<rect x="940" y="320" width="3" height="5" fill="#00ff00"/>
<rect x="949" y="346" width="1" height="63" fill="#000"/>
<rect x="947" y="351" width="5" height="30" fill="#000"/>
<rect x="948" y="352" width="3" height="28" fill="#00ff00"/>
<rect x="957" y="374" width="1" height="60" fill="#000"/>
<rect x="955" y="380" width="5" height="27" fill="#000"/>
<rect x="956" y="381" width="3" height="25" fill="#00ff00"/>
<rect x="965" y="262" width="1" height="48" fill="#000"/>
<rect x="963" y="275" width="5" height="22" fill="#000"/>
<rect x="964" y="276" width="3" height="20" fill="#ff0000"/>
<rect x="973" y="229" width="1" height="51" fill="#000"/>
<rect x="971" y="233" width="5" height="43" fill="#000"/>
<rect x="972" y="234" width="3" height="41" fill="#ff0000"/>
<rect x="981" y="246" width="1" height="36" fill="#000"/>
<rect x="979" y="265" width="5" height="7" fill="#000"/>
<rect x="980" y="266" width="3" height="5" fill="#00ff00"/>
<rect x="989" y="247" width="1" height="31" fill="#000"/>
<rect x="987" y="257" width="5" height="14" fill="#000"/>
<rect x="988" y="258" width="3" height="12" fill="#ff0000"/>
<rect x="997" y="184" width="1" height="45" fill="#000"/>
<rect x="995" y="196" width="5" height="17" fill="#000"/>
<rect x="996" y="197" width="3" height="15" fill="#ff0000"/>
<rect x="1005" y="187" width="1" height="34" fill="#000"/>
<rect x="1003" y="194" width="5" height="2" fill="#000"/>
<rect x="1013" y="147" width="1" height="103" fill="#000"/>
<rect x="1011" y="156" width="5" height="94" fill="#000"/>
<rect x="1012" y="157" width="3" height="92" fill="#ff0000"/>
<rect x="1021" y="125" width="1" height="30" fill="#000"/>
<rect x="1019" y="133" width="5" height="23" fill="#000"/>
<rect x="1020" y="134" width="3" height="21" fill="#ff0000"/>
<rect x="1029" y="36" width="1" height="53" fill="#000"/>
<rect x="1027" y="68" width="5" height="17" fill="#000"/>
<rect x="1028" y="69" width="3" height="15" fill="#ff0000"/>
<rect x="1037" y="59" width="1" height="47" fill="#000"/>
<rect x="1035" y="66" width="5" height="18" fill="#000"/>
<rect x="1036" y="67" width="3" height="16" fill="#00ff00"/>
<rect x="1045" y="40" width="1" height="60" fill="#000"/>
<rect x="1043" y="72" width="5" height="22" fill="#000"/>
<rect x="1044" y="73" width="3" height="20" fill="#00ff00"/>
<rect x="1053" y="86" width="1" height="47" fill="#000"/>
<rect x="1051" y="88" width="5" height="31" fill="#000"/>
<rect x="1052" y="89" width="3" height="29" fill="#00ff00"/>
<rect x="1061" y="118" width="1" height="92" fill="#000"/>
<rect x="1059" y="154" width="5" height="46" fill="#000"/>
<rect x="1060" y="155" width="3" height="44" fill="#00ff00"/>
<rect x="1069" y="194" width="1" height="41" fill="#000"/>
<rect x="1067" y="200" width="5" height="26" fill="#000"/>
<rect x="1068" y="201" width="3" height="24" fill="#00ff00"/>
<rect x="1077" y="210" width="1" height="46" fill="#000"/>
<rect x="1075" y="223" width="5" height="25" fill="#000"/>
<rect x="1076" y="224" width="3" height="23" fill="#ff0000"/>
<rect x="1085" y="191" width="1" height="64" fill="#000"/>
<rect x="1083" y="227" width="5" height="17" fill="#000"/>
<rect x="1084" y="228" width="3" height="15" fill="#00ff00"/>
<rect x="1093" y="147" width="1" height="77" fill="#000"/>
<rect x="1091" y="177" width="5" height="24" fill="#000"/>
<rect x="1092" y="178" width="3" height="22" fill="#00ff00"/>
<rect x="1101" y="184" width="1" height="51" fill="#000"/>
<rect x="1099" y="202" width="5" height="24" fill="#000"/>
<rect x="1100" y="203" width="3" height="22" fill="#00ff00"/>
<rect x="1109" y="211" width="1" height="49" fill="#000"/>
<rect x="1107" y="220" width="5" height="11" fill="#000"/>
<rect x="1108" y="221" width="3" height="9" fill="#ff0000"/>
<rect x="1117" y="216" width="1" height="22" fill="#000"/>
<rect x="1115" y="221" width="5" height="6" fill="#000"/>
<rect x="1116" y="222" width="3" height="4" fill="#00ff00"/>
<rect x="1125" y="253" width="1" height="55" fill="#000"/>
<rect x="1123" y="253" width="5" height="26" fill="#000"/>
<rect x="1124" y="254" width="3" height="24" fill="#00ff00"/>
<rect x="1133" y="276" width="1" height="39" fill="#000"/>
<rect x="1131" y="276" width="5" height="33" fill="#000"/>
<rect x="1132" y="277" width="3" height="31" fill="#00ff00"/>
<rect x="1141" y="278" width="1" height="58" fill="#000"/>
<rect x="1139" y="300" width="5" height="20" fill="#000"/>
<rect x="1140" y="301" width="3" height="18" fill="#ff0000"/>
<rect x="1149" y="278" width="1" height="36" fill="#000"/>
<rect x="1147" y="287" width="5" height="14" fill="#000"/>
<rect x="1148" y="288" width="3" height="12" fill="#ff0000"/>
<rect x="1157" y="291" width="1" height="40" fill="#000"/>
<rect x="1155" y="304" width="5" height="19" fill="#000"/>
<rect x="1156" y="305" width="3" height="17" fill="#00ff00"/>
<rect x="1165" y="265" width="1" height="62" fill="#000"/>
<rect x="1163" y="283" width="5" height="41" fill="#000"/>
<rect x="1164" y="284" width="3" height="39" fill="#ff0000"/>
<rect x="1173" y="262" width="1" height="63" fill="#000"/>
<rect x="1171" y="269" width="5" height="40" fill="#000"/>
<rect x="1172" y="270" width="3" height="38" fill="#00ff00"/>
<rect x="1181" y="295" width="1" height="31" fill="#000"/>
<rect x="1179" y="309" width="5" height="11" fill="#000"/>
<rect x="1180" y="310" width="3" height="9" fill="#00ff00"/>
<rect x="1189" y="390" width="1" height="43" fill="#000"/>
<rect x="1187" y="401" width="5" height="20" fill="#000"/>
<rect x="1188" y="402" width="3" height="18" fill="#00ff00"/>
<rect x="1197" y="373" width="1" height="52" fill="#000"/>
<rect x="1195" y="395" width="5" height="26" fill="#000"/>
<rect x="1196" y="396" width="3" height="24" fill="#ff0000"/>
<rect x="1205" y="392" width="1" height="42" fill="#000"/>
<rect x="1203" y="408" width="5" height="11" fill="#000"/>
<rect x="1204" y="409" width="3" height="9" fill="#00ff00"/>
<rect x="1213" y="406" width="1" height="36" fill="#000"/>
<rect x="1211" y="419" width="5" height="19" fill="#000"/>
<rect x="1212" y="420" width="3" height="17" fill="#00ff00"/>
<rect x="1221" y="457" width="1" height="34" fill="#000"/>
<rect x="1219" y="481" width="5" height="2" fill="#000"/>
<rect x="1229" y="474" width="1" height="22" fill="#000"/>
<rect x="1227" y="480" width="5" height="8" fill="#000"/>
<rect x="1228" y="481" width="3" height="6" fill="#00ff00"/>
<rect x="1237" y="484" width="1" height="91" fill="#000"/>
<rect x="1235" y="489" width="5" height="65" fill="#000"/>
<rect x="1236" y="490" width="3" height="63" fill="#ff0000"/>
<rect x="1245" y="467" width="1" height="68" fill="#000"/>
<rect x="1243" y="487" width="5" height="8" fill="#000"/>
<rect x="1244" y="488" width="3" height="6" fill="#00ff00"/>
<rect x="1253" y="481" width="1" height="52" fill="#000"/>
<rect x="1251" y="519" width="5" height="10" fill="#000"/>
<rect x="1252" y="520" width="3" height="8" fill="#00ff00"/>
<rect x="1261" y="529" width="1" height="43" fill="#000"/>
<rect x="1259" y="529" width="5" height="43" fill="#000"/>
<rect x="1260" y="530" width="3" height="41" fill="#00ff00"/>
<rect x="1269" y="579" width="1" height="52" fill="#000"/>
<rect x="1267" y="593" width="5" height="22" fill="#000"/>
<rect x="1268" y="594" width="3" height="20" fill="#00ff00"/>
<rect x="1277" y="596" width="1" height="44" fill="#000"/>
<rect x="1275" y="614" width="5" height="16" fill="#000"/>
<rect x="1276" y="615" width="3" height="14" fill="#00ff00"/>
<rect x="1285" y="595" width="1" height="44" fill="#000"/>
<rect x="1283" y="625" width="5" height="4" fill="#000"/>
<rect x="1284" y="626" width="3" height="2" fill="#00ff00"/>
<rect x="1293" y="558" width="1" height="88" fill="#000"/>
<rect x="1291" y="605" width="5" height="23" fill="#000"/>
<rect x="1292" y="606" width="3" height="21" fill="#ff0000"/>
<rect x="5" y="186" width="1622" height="3" fill="#000"/>
<rect x="5" y="250" width="1622" height="3" fill="#000"/>
<rect x="5" y="568" width="1622" height="3" fill="#000"/>
</g>
<g clip-path="url(#cd)">
<rect x="4" y="753" width="3" height="39" fill="#00ff00"/>
<rect x="12" y="753" width="3" height="42" fill="#00ff00"/>
<rect x="20" y="753" width="3" height="43" fill="#00ff00"/>
<rect x="28" y="753" width="3" height="39" fill="#00ff00"/>
<rect x="36" y="753" width="3" height="38" fill="#00ff00"/>
<rect x="44" y="753" width="3" height="34" fill="#00ff00"/>
<rect x="52" y="753" width="3" height="35" fill="#00ff00"/>
<rect x="60" y="753" width="3" height="40" fill="#00ff00"/>
<rect x="68" y="753" width="3" height="42" fill="#00ff00"/>
<rect x="76" y="753" width="3" height="37" fill="#00ff00"/>
<rect x="84" y="753" width="3" height="32" fill="#00ff00"/>
<rect x="92" y="753" width="3" height="26" fill="#00ff00"/>
<rect x="100" y="753" width="3" height="21" fill="#00ff00"/>
<rect x="108" y="753" width="3" height="12" fill="#00ff00"/>
<rect x="116" y="753" width="3" height="5" fill="#00ff00"/>
<rect x="124" y="753" width="3" height="1" fill="#00ff00"/>
<rect x="132" y="753" width="3" height="6" fill="#00ff00"/>
<rect x="140" y="753" width="3" height="11" fill="#00ff00"/>
<rect x="148" y="753" width="3" height="12" fill="#00ff00"/>
<rect x="156" y="753" width="3" height="18" fill="#00ff00"/>
<rect x="164" y="753" width="3" height="20" fill="#00ff00"/>
<rect x="172" y="753" width="3" height="22" fill="#00ff00"/>
<rect x="180" y="753" width="3" height="25" fill="#00ff00"/>
<rect x="188" y="753" width="3" height="26" fill="#00ff00"/>
<rect x="196" y="753" width="3" height="19" fill="#00ff00"/>
<rect x="204" y="753" width="3" height="14" fill="#00ff00"/>
<rect x="212" y="753" width="3" height="11" fill="#00ff00"/>
<rect x="220" y="753" width="3" height="10" fill="#00ff00"/>
<rect x="228" y="753" width="3" height="17" fill="#00ff00"/>
<rect x="236" y="753" width="3" height="17" fill="#00ff00"/>
<rect x="244" y="753" width="3" height="16" fill="#00ff00"/>
<rect x="252" y="753" width="3" height="22" fill="#00ff00"/>
<rect x="260" y="753" width="3" height="27" fill="#00ff00"/>
<rect x="268" y="753" width="3" height="25" fill="#00ff00"/>
<rect x="276" y="753" width="3" height="23" fill="#00ff00"/>
<rect x="284" y="753" width="3" height="24" fill="#00ff00"/>
<rect x="292" y="753" width="3" height="27" fill="#00ff00"/>
<rect x="300" y="753" width="3" height="33" fill="#00ff00"/>
<rect x="308" y="753" width="3" height="41" fill="#00ff00"/>
<rect x="316" y="753" width="3" height="54" fill="#00ff00"/>
<rect x="324" y="753" width="3" height="65" fill="#00ff00"/>
<rect x="332" y="753" width="3" height="72" fill="#00ff00"/>
<rect x="340" y="753" width="3" height="79" fill="#00ff00"/>
<rect x="348" y="753" width="3" height="90" fill="#00ff00"/>
<rect x="356" y="753" width="3" height="93" fill="#00ff00"/>
<rect x="364" y="753" width="3" height="103" fill="#00ff00"/>
<rect x="372" y="753" width="3" height="108" fill="#00ff00"/>
<rect x="380" y="753" width="3" height="108" fill="#00ff00"/>
<rect x="388" y="753" width="3" height="110" fill="#00ff00"/>
<rect x="396" y="753" width="3" height="95" fill="#00ff00"/>
<rect x="404" y="753" width="3" height="83" fill="#00ff00"/>
<rect x="412" y="753" width="3" height="69" fill="#00ff00"/>
<rect x="420" y="753" width="3" height="57" fill="#00ff00"/>
<rect x="428" y="753" width="3" height="44" fill="#00ff00"/>
<rect x="436" y="753" width="3" height="37" fill="#00ff00"/>
<rect x="444" y="753" width="3" height="25" fill="#00ff00"/>
<rect x="452" y="753" width="3" height="17" fill="#00ff00"/>
<rect x="460" y="753" width="3" height="12" fill="#00ff00"/>
<rect x="468" y="753" width="3" height="4" fill="#00ff00"/>
<rect x="476" y="751" width="3" height="2" fill="#00ff00"/>
<rect x="484" y="744" width="3" height="9" fill="#00ff00"/>
<rect x="492" y="742" width="3" height="11" fill="#00ff00"/>
<rect x="500" y="737" width="3" height="16" fill="#00ff00"/>
<rect x="508" y="732" width="3" height="21" fill="#00ff00"/>
<rect x="516" y="727" width="3" height="26" fill="#00ff00"/>
<rect x="524" y="724" width="3" height="29" fill="#00ff00"/>
<rect x="532" y="723" width="3" height="30" fill="#00ff00"/>
<rect x="540" y="720" width="3" height="33" fill="#00ff00"/>
<rect x="548" y="713" width="3" height="40" fill="#00ff00"/>
<rect x="556" y="704" width="3" height="49" fill="#00ff00"/>
<rect x="564" y="695" width="3" height="58" fill="#00ff00"/>
<rect x="572" y="697" width="3" height="56" fill="#00ff00"/>
<rect x="580" y="695" width="3" height="58" fill="#00ff00"/>
<rect x="588" y="700" width="3" height="53" fill="#00ff00"/>
<rect x="596" y="707" width="3" height="46" fill="#00ff00"/>
<rect x="604" y="718" width="3" height="35" fill="#00ff00"/>
<rect x="612" y="728" width="3" height="25" fill="#00ff00"/>
<rect x="620" y="744" width="3" height="9" fill="#00ff00"/>
<rect x="628" y="753" width="3" height="4" fill="#00ff00"/>
<rect x="636" y="753" width="3" height="14" fill="#00ff00"/>
<rect x="644" y="753" width="3" height="23" fill="#00ff00"/>
<rect x="652" y="753" width="3" height="24" fill="#00ff00"/>
<rect x="660" y="753" width="3" height="22" fill="#00ff00"/>
<rect x="668" y="753" width="3" height="22" fill="#00ff00"/>
<rect x="676" y="753" width="3" height="22" fill="#00ff00"/>
<rect x="684" y="753" width="3" height="27" fill="#00ff00"/>
<rect x="692" y="753" width="3" height="32" fill="#00ff00"/>
<rect x="700" y="753" width="3" height="34" fill="#00ff00"/>
<rect x="708" y="753" width="3" height="35" fill="#00ff00"/>
<rect x="716" y="753" width="3" height="29" fill="#00ff00"/>
<rect x="724" y="753" width="3" height="22" fill="#00ff00"/>
<rect x="732" y="753" width="3" height="15" fill="#00ff00"/>
<rect x="740" y="753" width="3" height="10" fill="#00ff00"/>
<rect x="748" y="753" width="3" height="11" fill="#00ff00"/>
<rect x="756" y="753" width="3" height="12" fill="#00ff00"/>
<rect x="764" y="753" width="3" height="21" fill="#00ff00"/>
<rect x="772" y="753" width="3" height="32" fill="#00ff00"/>
<rect x="780" y="753" width="3" height="41" fill="#00ff00"/>
<rect x="788" y="753" width="3" height="48" fill="#00ff00"/>
<rect x="796" y="753" width="3" height="50" fill="#00ff00"/>
<rect x="804" y="753" width="3" height="51" fill="#00ff00"/>
<rect x="812" y="753" width="3" height="46" fill="#00ff00"/>
<rect x="820" y="753" width="3" height="44" fill="#00ff00"/>
<rect x="828" y="753" width="3" height="37" fill="#00ff00"/>
<rect x="836" y="753" width="3" height="32" fill="#00ff00"/>
<rect x="844" y="753" width="3" height="16" fill="#00ff00"/>
<rect x="852" y="753" width="3" height="4" fill="#00ff00"/>
<rect x="860" y="745" width="3" height="8" fill="#00ff00"/>
<rect x="868" y="736" width="3" height="17" fill="#00ff00"/>
<rect x="876" y="733" width="3" height="20" fill="#00ff00"/>
<rect x="884" y="736" width="3" height="17" fill="#00ff00"/>
<rect x="892" y="739" width="3" height="14" fill="#00ff00"/>
<rect x="900" y="747" width="3" height="6" fill="#00ff00"/>
<rect x="908" y="750" width="3" height="3" fill="#00ff00"/>
<rect x="916" y="752" width="3" height="1" fill="#00ff00"/>
<rect x="924" y="752" width="3" height="1" fill="#00ff00"/>
<rect x="932" y="752" width="3" height="1" fill="#00ff00"/>
<rect x="940" y="750" width="3" height="3" fill="#00ff00"/>
<rect x="948" y="753" width="3" height="3" fill="#00ff00"/>
<rect x="956" y="753" width="3" height="10" fill="#00ff00"/>
<rect x="964" y="753" width="3" height="2" fill="#00ff00"/>
<rect x="972" y="743" width="3" height="10" fill="#00ff00"/>
<rect x="980" y="739" width="3" height="14" fill="#00ff00"/>
<rect x="988" y="734" width="3" height="19" fill="#00ff00"/>
<rect x="996" y="725" width="3" height="28" fill="#00ff00"/>
<rect x="1004" y="717" width="3" height="36" fill="#00ff00"/>
<rect x="1012" y="708" width="3" height="45" fill="#00ff00"/>
<rect x="1020" y="699" width="3" height="54" fill="#00ff00"/>
<rect x="1028" y="686" width="3" height="67" fill="#00ff00"/>
<rect x="1036" y="678" width="3" height="75" fill="#00ff00"/>
<rect x="1044" y="674" width="3" height="79" fill="#00ff00"/>
<rect x="1052" y="674" width="3" height="79" fill="#00ff00"/>
<rect x="1060" y="683" width="3" height="70" fill="#00ff00"/>
<rect x="1068" y="694" width="3" height="59" fill="#00ff00"/>
<rect x="1076" y="702" width="3" height="51" fill="#00ff00"/>
<rect x="1084" y="712" width="3" height="41" fill="#00ff00"/>
<rect x="1092" y="715" width="3" height="38" fill="#00ff00"/>
<rect x="1100" y="721" width="3" height="32" fill="#00ff00"/>
<rect x="1108" y="725" width="3" height="28" fill="#00ff00"/>
<rect x="1116" y="730" width="3" height="23" fill="#00ff00"/>
<rect x="1124" y="738" width="3" height="15" fill="#00ff00"/>
<rect x="1132" y="748" width="3" height="5" fill="#00ff00"/>
<rect x="1140" y="753" width="3" height="4" fill="#00ff00"/>
<rect x="1148" y="753" width="3" height="8" fill="#00ff00"/>
<rect x="1156" y="753" width="3" height="15" fill="#00ff00"/>
<rect x="1164" y="753" width="3" height="16" fill="#00ff00"/>
<rect x="1172" y="753" width="3" height="19" fill="#00ff00"/>
<rect x="1180" y="753" width="3" height="23" fill="#00ff00"/>
<rect x="1188" y="753" width="3" height="34" fill="#00ff00"/>
<rect x="1196" y="753" width="3" height="42" fill="#00ff00"/>
<rect x="1204" y="753" width="3" height="49" fill="#00ff00"/>
<rect x="1212" y="753" width="3" height="55" fill="#00ff00"/>
<rect x="1220" y="753" width="3" height="65" fill="#00ff00"/>
<rect x="1228" y="753" width="3" height="73" fill="#00ff00"/>
<rect x="1236" y="753" width="3" height="78" fill="#00ff00"/>
<rect x="1244" y="753" width="3" height="81" fill="#00ff00"/>
<rect x="1252" y="753" width="3" height="87" fill="#00ff00"/>
<rect x="1260" y="753" width="3" height="94" fill="#00ff00"/>
<rect x="1268" y="753" width="3" height="103" fill="#00ff00"/>
<rect x="1276" y="753" width="3" height="110" fill="#00ff00"/>
<rect x="1284" y="753" width="3" height="115" fill="#00ff00"/>
<rect x="1292" y="753" width="3" height="115" fill="#00ff00"/>
</g>
</g>
<polyline points="5,761.7 13,769.8 21,775.1 29,781.5 37,785.5 45,788.5 53,790.7 61,791.0 69,791.0 77,791.0 85,790.5 93,788.5 101,786.3 109,783.5 117,780.6 125,776.8 133,772.6 141,769.6 149,767.3 157,765.4 165,765.1 173,765.4 181,766.3 189,768.8 197,770.6 205,770.6 213,770.6 221,770.6 229,770.1 237,769.8 245,769.8 253,769.6 261,768.9 269,770.4 277,771.3 285,772.0 293,773.4 301,775.9 309,779.2 317,783.4 325,787.1 333,792.1 341,798.1 349,807.7 357,816.0 365,824.4 373,832.2 381,839.4 389,844.4 397,848.3 405,848.6 413,848.6 421,845.0 429,839.9 437,833.2 445,823.5 453,812.7 461,801.5 469,791.8 477,783.4 485,775.9 493,769.2 501,761.1 509,754.4 517,747.7 525,742.7 533,737.7 541,733.8 549,730.1 557,726.0 565,719.8 573,715.1 581,710.9 589,708.1 597,706.2 605,705.9 613,706.2 621,709.7 629,715.1 637,720.9 645,729.3 653,738.8 661,748.5 669,757.7 677,764.4 685,769.9 693,774.4 701,777.8 709,779.8 717,780.0 725,780.0 733,779.8 741,778.3 749,776.5 757,775.3 765,774.1 773,774.0 781,774.0 789,776.2 797,779.5 805,783.2 813,787.0 821,791.2 829,794.5 837,794.9 845,793.4 853,789.5 861,783.7 869,776.7 877,768.6 885,761.1 893,755.3 901,749.9 909,746.6 917,744.4 925,743.9 933,743.9 941,744.7 949,747.2 957,750.7 965,751.9 973,751.9 981,751.1 989,749.1 997,746.4 1005,742.7 1013,737.7 1021,731.8 1029,724.3 1037,715.4 1045,708.0 1053,700.6 1061,694.3 1069,691.1 1077,689.4 1085,689.4 1093,690.5 1101,693.6 1109,698.5 1117,704.4 1125,712.2 1133,720.7 1141,728.1 1149,734.4 1157,739.7 1165,746.0 1173,751.3 1181,756.6 1189,762.9 1197,769.2 1205,775.6 1213,781.9 1221,788.2 1229,794.6 1237,800.9 1245,807.2 1253,814.6 1261,821.0 1269,827.9 1277,834.7 1285,840.6 1293,846.9" fill="none" stroke="#ff0000" stroke-width="2" stroke-linejoin="round" clip-path="url(#cd)"/>
<g shape-rendering="crispEdges">
<rect x="4.5" y="4.5" width="1623" height="657" fill="none" stroke="#000" stroke-width="1"/>
<rect x="4.5" y="663.5" width="1623" height="214" fill="none" stroke="#000" stroke-width="1"/>
<rect x="1628" y="31" width="2" height="1" fill="#000"/>
<rect x="1628" y="64" width="2" height="1" fill="#000"/>
<rect x="1628" y="97" width="2" height="1" fill="#000"/>
<rect x="1628" y="130" width="2" height="1" fill="#000"/>
<rect x="1628" y="163" width="2" height="1" fill="#000"/>
<rect x="1628" y="196" width="2" height="1" fill="#000"/>
<rect x="1628" y="229" width="2" height="1" fill="#000"/>
<rect x="1628" y="262" width="2" height="1" fill="#000"/>
<rect x="1628" y="295" width="2" height="1" fill="#000"/>
<rect x="1628" y="328" width="2" height="1" fill="#000"/>
<rect x="1628" y="361" width="2" height="1" fill="#000"/>
<rect x="1628" y="394" width="2" height="1" fill="#000"/>
<rect x="1628" y="427" width="2" height="1" fill="#000"/>
<rect x="1628" y="460" width="2" height="1" fill="#000"/>
<rect x="1628" y="493" width="2" height="1" fill="#000"/>
<rect x="1628" y="526" width="2" height="1" fill="#000"/>
<rect x="1628" y="559" width="2" height="1" fill="#000"/>
<rect x="1628" y="592" width="2" height="1" fill="#000"/>
<rect x="1628" y="625" width="2" height="1" fill="#000"/>
<rect x="1628" y="658" width="2" height="1" fill="#000"/>
<rect x="1628" y="665" width="2" height="1" fill="#000"/>
<rect x="1628" y="753" width="2" height="1" fill="#000"/>
<rect x="1628" y="877" width="2" height="1" fill="#000"/>
<rect x="5" y="878" width="1" height="3" fill="#000"/>
<rect x="69" y="878" width="1" height="3" fill="#000"/>
<rect x="133" y="878" width="1" height="3" fill="#000"/>
<rect x="197" y="878" width="1" height="3" fill="#000"/>
<rect x="261" y="878" width="1" height="3" fill="#000"/>
<rect x="325" y="878" width="1" height="3" fill="#000"/>
<rect x="389" y="878" width="1" height="3" fill="#000"/>
<rect x="453" y="878" width="1" height="3" fill="#000"/>
<rect x="517" y="878" width="1" height="3" fill="#000"/>
<rect x="581" y="878" width="1" height="3" fill="#000"/>
<rect x="645" y="878" width="1" height="3" fill="#000"/>
<rect x="709" y="878" width="1" height="3" fill="#000"/>
<rect x="773" y="878" width="1" height="3" fill="#000"/>
<rect x="837" y="878" width="1" height="3" fill="#000"/>
<rect x="901" y="878" width="1" height="3" fill="#000"/>
<rect x="965" y="878" width="1" height="3" fill="#000"/>
<rect x="1029" y="878" width="1" height="3" fill="#000"/>
<rect x="1093" y="878" width="1" height="3" fill="#000"/>
<rect x="1157" y="878" width="1" height="3" fill="#000"/>
<rect x="1221" y="878" width="1" height="3" fill="#000"/>
<rect x="1285" y="878" width="1" height="3" fill="#000"/>
<polygon points="1297,5 1306,5 1301.5,10" fill="#778899"/>
</g>
<polygon points="8,11 15,11 11.5,15" fill="#000"/>
<text transform="translate(20,16) scale(0.995,1)" font-family='"Liberation Sans", sans-serif' font-size="9.5" fill="#000" stroke="#000" stroke-width="0.05" text-anchor="start">HK50-,H4</text>
<text transform="translate(67,16) scale(0.976,1)" font-family='"Liberation Sans", sans-serif' font-size="9.5" fill="#000" stroke="#000" stroke-width="0.05" text-anchor="start">17624.5 17949.5 17540.5 17729.5</text>
<text transform="translate(9,676) scale(0.995,1)" font-family='"Liberation Sans", sans-serif' font-size="9.5" fill="#000" stroke="#000" stroke-width="0.05" text-anchor="start">MACD(12,26,9) -429.09 -354.75</text>
<text transform="translate(1633,35) scale(0.976,1)" font-family='"Liberation Sans", sans-serif' font-size="9.5" fill="#000" stroke="#000" stroke-width="0.05" text-anchor="start">20438.0</text>
<text transform="translate(1633,68) scale(0.976,1)" font-family='"Liberation Sans", sans-serif' font-size="9.5" fill="#000" stroke="#000" stroke-width="0.05" text-anchor="start">20280.5</text>
<text transform="translate(1633,101) scale(0.976,1)" font-family='"Liberation Sans", sans-serif' font-size="9.5" fill="#000" stroke="#000" stroke-width="0.05" text-anchor="start">20127.5</text>
<text transform="translate(1633,134) scale(0.976,1)" font-family='"Liberation Sans", sans-serif' font-size="9.5" fill="#000" stroke="#000" stroke-width="0.05" text-anchor="start">19970.0</text>
<text transform="translate(1633,167) scale(0.976,1)" font-family='"Liberation Sans", sans-serif' font-size="9.5" fill="#000" stroke="#000" stroke-width="0.05" text-anchor="start">19812.5</text>
<text transform="translate(1633,200) scale(0.976,1)" font-family='"Liberation Sans", sans-serif' font-size="9.5" fill="#000" stroke="#000" stroke-width="0.05" text-anchor="start">19659.5</text>
<text transform="translate(1633,233) scale(0.976,1)" font-family='"Liberation Sans", sans-serif' font-size="9.5" fill="#000" stroke="#000" stroke-width="0.05" text-anchor="start">19502.0</text>
<text transform="translate(1633,266) scale(0.976,1)" font-family='"Liberation Sans", sans-serif' font-size="9.5" fill="#000" stroke="#000" stroke-width="0.05" text-anchor="start">19349.0</text>
<text transform="translate(1633,299) scale(0.976,1)" font-family='"Liberation Sans", sans-serif' font-size="9.5" fill="#000" stroke="#000" stroke-width="0.05" text-anchor="start">19191.5</text>
<text transform="translate(1633,332) scale(0.976,1)" font-family='"Liberation Sans", sans-serif' font-size="9.5" fill="#000" stroke="#000" stroke-width="0.05" text-anchor="start">19034.0</text>
<text transform="translate(1633,365) scale(0.976,1)" font-family='"Liberation Sans", sans-serif' font-size="9.5" fill="#000" stroke="#000" stroke-width="0.05" text-anchor="start">18881.0</text>
<text transform="translate(1633,398) scale(0.976,1)" font-family='"Liberation Sans", sans-serif' font-size="9.5" fill="#000" stroke="#000" stroke-width="0.05" text-anchor="start">18723.5</text>
<text transform="translate(1633,431) scale(0.976,1)" font-family='"Liberation Sans", sans-serif' font-size="9.5" fill="#000" stroke="#000" stroke-width="0.05" text-anchor="start">18570.0</text>
<text transform="translate(1633,464) scale(0.976,1)" font-family='"Liberation Sans", sans-serif' font-size="9.5" fill="#000" stroke="#000" stroke-width="0.05" text-anchor="start">18413.0</text>
<text transform="translate(1633,497) scale(0.976,1)" font-family='"Liberation Sans", sans-serif' font-size="9.5" fill="#000" stroke="#000" stroke-width="0.05" text-anchor="start">18260.0</text>
<text transform="translate(1633,530) scale(0.976,1)" font-family='"Liberation Sans", sans-serif' font-size="9.5" fill="#000" stroke="#000" stroke-width="0.05" text-anchor="start">18102.5</text>
<text transform="translate(1633,563) scale(0.976,1)" font-family='"Liberation Sans", sans-serif' font-size="9.5" fill="#000" stroke="#000" stroke-width="0.05" text-anchor="start">17945.0</text>
<text transform="translate(1633,596) scale(0.976,1)" font-family='"Liberation Sans", sans-serif' font-size="9.5" fill="#000" stroke="#000" stroke-width="0.05" text-anchor="start">17792.0</text>
<text transform="translate(1633,629) scale(0.976,1)" font-family='"Liberation Sans", sans-serif' font-size="9.5" fill="#000" stroke="#000" stroke-width="0.05" text-anchor="start">17634.5</text>
<text transform="translate(1633,662) scale(0.976,1)" font-family='"Liberation Sans", sans-serif' font-size="9.5" fill="#000" stroke="#000" stroke-width="0.05" text-anchor="start">17481.5</text>
<rect x="1629" y="181" width="41" height="11" fill="#000" shape-rendering="crispEdges"/>
<text transform="translate(1633,190) scale(0.976,1)" font-family='"Liberation Sans", sans-serif' font-size="9.5" fill="#fff" stroke="#fff" stroke-width="0.05" text-anchor="start">19700.0</text>
<rect x="1629" y="245" width="41" height="11" fill="#000" shape-rendering="crispEdges"/>
<text transform="translate(1633,254) scale(0.976,1)" font-family='"Liberation Sans", sans-serif' font-size="9.5" fill="#fff" stroke="#fff" stroke-width="0.05" text-anchor="start">19400.0</text>
<rect x="1629" y="563" width="41" height="11" fill="#000" shape-rendering="crispEdges"/>
<text transform="translate(1633,572) scale(0.976,1)" font-family='"Liberation Sans", sans-serif' font-size="9.5" fill="#fff" stroke="#fff" stroke-width="0.05" text-anchor="start">17900.0</text>
<rect x="1629" y="600" width="41" height="11" fill="#000" shape-rendering="crispEdges"/>
<text transform="translate(1633,609) scale(0.976,1)" font-family='"Liberation Sans", sans-serif' font-size="9.5" fill="#fff" stroke="#fff" stroke-width="0.05" text-anchor="start">17729.5</text>
<text transform="translate(1632,674) scale(0.976,1)" font-family='"Liberation Sans", sans-serif' font-size="9.5" fill="#000" stroke="#000" stroke-width="0.05" text-anchor="start">332.98</text>
<text transform="translate(1632,757) scale(0.976,1)" font-family='"Liberation Sans", sans-serif' font-size="9.5" fill="#000" stroke="#000" stroke-width="0.05" text-anchor="start">0.00</text>
<text transform="translate(1632,874) scale(0.976,1)" font-family='"Liberation Sans", sans-serif' font-size="9.5" fill="#000" stroke="#000" stroke-width="0.05" text-anchor="start">-465.7</text>
<text transform="translate(4,890) scale(1.033,1)" font-family='"Liberation Sans", sans-serif' font-size="9.5" fill="#000" stroke="#000" stroke-width="0.05" text-anchor="start">26 Apr 2023</text>
<text transform="translate(68,890) scale(1.033,1)" font-family='"Liberation Sans", sans-serif' font-size="9.5" fill="#000" stroke="#000" stroke-width="0.05" text-anchor="start">3 May 05:00</text>
<text transform="translate(132,890) scale(1.033,1)" font-family='"Liberation Sans", sans-serif' font-size="9.5" fill="#000" stroke="#000" stroke-width="0.05" text-anchor="start">9 May 05:00</text>
<text transform="translate(196,890) scale(1.033,1)" font-family='"Liberation Sans", sans-serif' font-size="9.5" fill="#000" stroke="#000" stroke-width="0.05" text-anchor="start">15 May 05:00</text>
<text transform="translate(260,890) scale(1.033,1)" font-family='"Liberation Sans", sans-serif' font-size="9.5" fill="#000" stroke="#000" stroke-width="0.05" text-anchor="start">19 May 05:00</text>
<text transform="translate(324,890) scale(1.033,1)" font-family='"Liberation Sans", sans-serif' font-size="9.5" fill="#000" stroke="#000" stroke-width="0.05" text-anchor="start">25 May 05:00</text>
<text transform="translate(388,890) scale(1.033,1)" font-family='"Liberation Sans", sans-serif' font-size="9.5" fill="#000" stroke="#000" stroke-width="0.05" text-anchor="start">1 Jun 05:00</text>
<text transform="translate(452,890) scale(1.033,1)" font-family='"Liberation Sans", sans-serif' font-size="9.5" fill="#000" stroke="#000" stroke-width="0.05" text-anchor="start">7 Jun 05:00</text>
<text transform="translate(516,890) scale(1.033,1)" font-family='"Liberation Sans", sans-serif' font-size="9.5" fill="#000" stroke="#000" stroke-width="0.05" text-anchor="start">13 Jun 05:00</text>
<text transform="translate(580,890) scale(1.033,1)" font-family='"Liberation Sans", sans-serif' font-size="9.5" fill="#000" stroke="#000" stroke-width="0.05" text-anchor="start">19 Jun 05:00</text>
<text transform="translate(644,890) scale(1.033,1)" font-family='"Liberation Sans", sans-serif' font-size="9.5" fill="#000" stroke="#000" stroke-width="0.05" text-anchor="start">26 Jun 05:00</text>
<text transform="translate(708,890) scale(1.033,1)" font-family='"Liberation Sans", sans-serif' font-size="9.5" fill="#000" stroke="#000" stroke-width="0.05" text-anchor="start">30 Jun 05:00</text>
<text transform="translate(772,890) scale(1.033,1)" font-family='"Liberation Sans", sans-serif' font-size="9.5" fill="#000" stroke="#000" stroke-width="0.05" text-anchor="start">6 Jul 05:00</text>
<text transform="translate(836,890) scale(1.033,1)" font-family='"Liberation Sans", sans-serif' font-size="9.5" fill="#000" stroke="#000" stroke-width="0.05" text-anchor="start">12 Jul 05:00</text>
<text transform="translate(900,890) scale(1.033,1)" font-family='"Liberation Sans", sans-serif' font-size="9.5" fill="#000" stroke="#000" stroke-width="0.05" text-anchor="start">19 Jul 01:15</text>
<text transform="translate(964,890) scale(1.033,1)" font-family='"Liberation Sans", sans-serif' font-size="9.5" fill="#000" stroke="#000" stroke-width="0.05" text-anchor="start">25 Jul 01:15</text>
<text transform="translate(1028,890) scale(1.033,1)" font-family='"Liberation Sans", sans-serif' font-size="9.5" fill="#000" stroke="#000" stroke-width="0.05" text-anchor="start">31 Jul 01:15</text>
<text transform="translate(1092,890) scale(1.033,1)" font-family='"Liberation Sans", sans-serif' font-size="9.5" fill="#000" stroke="#000" stroke-width="0.05" text-anchor="start">4 Aug 01:15</text>
<text transform="translate(1156,890) scale(1.033,1)" font-family='"Liberation Sans", sans-serif' font-size="9.5" fill="#000" stroke="#000" stroke-width="0.05" text-anchor="start">10 Aug 01:15</text>
<text transform="translate(1220,890) scale(1.033,1)" font-family='"Liberation Sans", sans-serif' font-size="9.5" fill="#000" stroke="#000" stroke-width="0.05" text-anchor="start">16 Aug 01:15</text>
<text transform="translate(1284,890) scale(1.033,1)" font-family='"Liberation Sans", sans-serif' font-size="9.5" fill="#000" stroke="#000" stroke-width="0.05" text-anchor="start">22 Aug 01:15</text>
<line x1="1305.6" y1="571.7" x2="1333" y2="660" stroke="#ff0000" stroke-width="6" stroke-linecap="round"/>
<polygon points="1319.6,659.6 1342.2,652.9 1341,689.2" fill="#ff0000"/>
</svg>
</body></html>
